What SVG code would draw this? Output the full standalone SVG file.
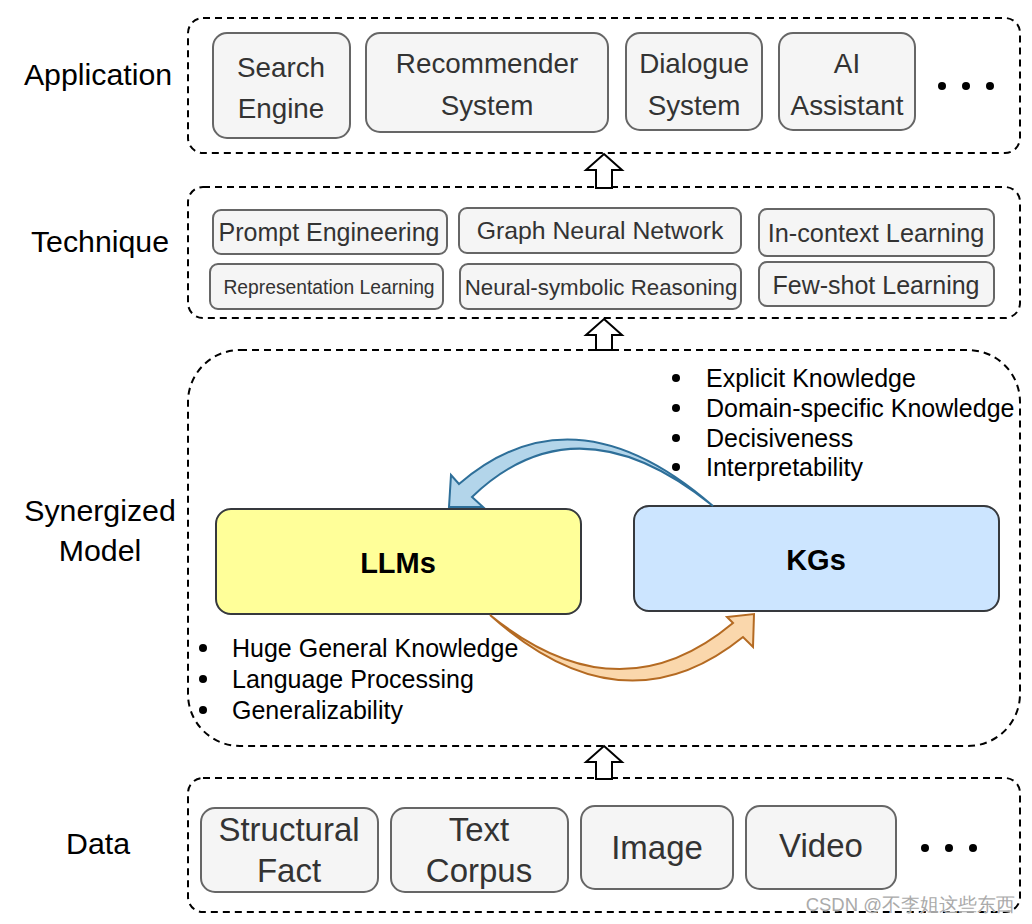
<svg xmlns="http://www.w3.org/2000/svg" width="1032" height="924" viewBox="0 0 1032 924">
<style>
text{font-family:"Liberation Sans",Arial,sans-serif;dominant-baseline:central;}
.layer{fill:none;stroke:#000;stroke-width:2;stroke-dasharray:7 5;}
.lbl{font-size:30.3px;fill:#000;text-anchor:middle;}
.node rect{fill:#f5f5f5;stroke:#666;stroke-width:2;}
.node text{fill:#333;text-anchor:middle;}
.bul{font-size:25px;fill:#000;}
.dot{fill:#000;}
.up{fill:#fff;stroke:#000;stroke-width:2;}
</style>
<rect width="1032" height="924" fill="#fff"/>

<!-- layers -->
<g id="layer-application">
<rect class="layer" x="188" y="18" width="832" height="135" rx="15"/>
<text class="lbl" x="98" y="74">Application</text>
</g>
<g id="layer-technique">
<rect class="layer" x="188" y="187" width="832" height="131" rx="15"/>
<text class="lbl" x="100" y="241">Technique</text>
</g>
<g id="layer-model">
<rect class="layer" x="188" y="350" width="832" height="396" rx="52"/>
<text class="lbl" x="100" y="510">Synergized</text>
<text class="lbl" x="100" y="550">Model</text>
</g>
<g id="layer-data">
<rect class="layer" x="188" y="778" width="832" height="134" rx="15"/>
<text class="lbl" x="98" y="843">Data</text>
</g>

<!-- application nodes -->
<g id="search-engine" class="node"><rect x="213" y="33" width="137" height="105" rx="14"/><text x="281" y="67" font-size="27.8">Search</text><text x="281" y="108" font-size="27.8">Engine</text></g>
<g id="recommender" class="node"><rect x="366" y="33" width="242" height="99" rx="14"/><text x="487" y="63" font-size="27.8">Recommender</text><text x="487" y="105" font-size="27.8">System</text></g>
<g id="dialogue" class="node"><rect x="626" y="33" width="136" height="97" rx="14"/><text x="694" y="63" font-size="27.8">Dialogue</text><text x="694" y="105" font-size="27.8">System</text></g>
<g id="ai-assistant" class="node"><rect x="779" y="33" width="136" height="97" rx="14"/><text x="847" y="63" font-size="27.8">AI</text><text x="847" y="105" font-size="27.8">Assistant</text></g>
<g id="app-more"><circle class="dot" cx="942" cy="86" r="4"/><circle class="dot" cx="966" cy="86" r="4"/><circle class="dot" cx="990" cy="86" r="4"/></g>

<!-- technique nodes -->
<g id="prompt-eng" class="node"><rect x="213" y="210" width="234" height="44" rx="8"/><text x="329" y="232" font-size="25">Prompt Engineering</text></g>
<g id="gnn" class="node"><rect x="459" y="208" width="282" height="45" rx="8"/><text x="600" y="230" font-size="24.8">Graph Neural Network</text></g>
<g id="icl" class="node"><rect x="759" y="209" width="235" height="47" rx="8"/><text x="876" y="233" font-size="25.3">In-context Learning</text></g>
<g id="repr" class="node"><rect x="210" y="264" width="233" height="45" rx="8"/><text x="329" y="287" font-size="19.3">Representation Learning</text></g>
<g id="nsr" class="node"><rect x="460" y="264" width="281" height="45" rx="8"/><text x="601" y="287" font-size="22.3">Neural-symbolic Reasoning</text></g>
<g id="fsl" class="node"><rect x="759" y="262" width="235" height="44" rx="8"/><text x="876" y="285" font-size="25">Few-shot Learning</text></g>

<!-- model nodes -->
<g id="llms"><rect x="216" y="509" width="365" height="105" rx="15" fill="#ffff99" stroke="#36393d" stroke-width="2"/><text x="398" y="563" font-size="29" font-weight="bold" text-anchor="middle" fill="#000">LLMs</text></g>
<g id="kgs"><rect x="634" y="506" width="365" height="105" rx="15" fill="#cce5ff" stroke="#36393d" stroke-width="2"/><text x="816" y="560" font-size="29" font-weight="bold" text-anchor="middle" fill="#000">KGs</text></g>

<g id="kg-features">
<circle class="dot" cx="676" cy="378" r="4"/><text class="bul" x="706" y="378">Explicit Knowledge</text>
<circle class="dot" cx="676" cy="408" r="4"/><text class="bul" x="706" y="408">Domain-specific Knowledge</text>
<circle class="dot" cx="676" cy="438" r="4"/><text class="bul" x="706" y="438">Decisiveness</text>
<circle class="dot" cx="676" cy="467" r="4"/><text class="bul" x="706" y="467">Interpretability</text>
</g>
<g id="llm-features">
<circle class="dot" cx="203" cy="648" r="4"/><text class="bul" x="232" y="648">Huge General Knowledge</text>
<circle class="dot" cx="203" cy="679" r="4"/><text class="bul" x="232" y="679">Language Processing</text>
<circle class="dot" cx="203" cy="710" r="4"/><text class="bul" x="232" y="710">Generalizability</text>
</g>

<!-- data nodes -->
<g id="structural-fact" class="node"><rect x="201" y="808" width="177" height="84" rx="14"/><text x="289" y="829" font-size="33">Structural</text><text x="289" y="870" font-size="33">Fact</text></g>
<g id="text-corpus" class="node"><rect x="391" y="808" width="177" height="84" rx="14"/><text x="479" y="829" font-size="33">Text</text><text x="479" y="870" font-size="33">Corpus</text></g>
<g id="image" class="node"><rect x="581" y="806" width="152" height="83" rx="14"/><text x="657" y="847" font-size="33">Image</text></g>
<g id="video" class="node"><rect x="746" y="806" width="150" height="83" rx="14"/><text x="821" y="845" font-size="33">Video</text></g>
<g id="data-more"><circle class="dot" cx="925" cy="848" r="4"/><circle class="dot" cx="949" cy="848" r="4"/><circle class="dot" cx="973" cy="848" r="4"/></g>

<!-- connectors -->
<g id="connectors">
<path class="up" d="M604 154 L622 170 L612 170 L612 188 L596 188 L596 170 L586 170 Z"/>
<path class="up" d="M604 319 L622 335 L612 335 L612 350 L596 350 L596 335 L586 335 Z"/>
<path class="up" d="M604 746 L622 762 L612 762 L612 779 L596 779 L596 762 L586 762 Z"/>
<path d="M713 506 Q574 385 459 484 L451 475 L449 507 L483 507 L472 497 Q577 396 713 506 Z" fill="#b3d5ea" stroke="#2e6f99" stroke-width="2" stroke-linejoin="miter"/>
<path d="M490 615 Q618 719 733 623 L727 617 L754 614 L753 647 L743 637 Q623 734 490 615 Z" fill="#fad7ac" stroke="#b46a22" stroke-width="2"/>
</g>

<text x="1015" y="904" font-size="18.5" fill="#aaa" text-anchor="end" font-family="'Liberation Sans','Noto Sans CJK SC',sans-serif" stroke="#fff" stroke-width="0.5" paint-order="stroke">CSDN @不李姐这些东西</text>
</svg>
